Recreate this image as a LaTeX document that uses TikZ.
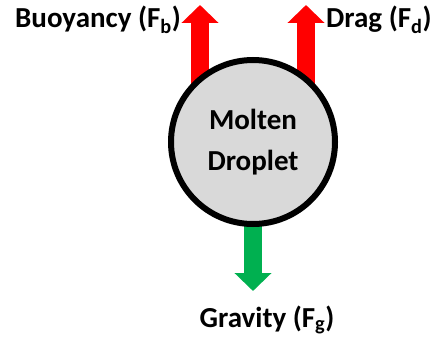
\documentclass[tikz,border=0pt]{standalone}
\usepackage{fontspec}
\setmainfont{Carlito}
\usetikzlibrary{arrows.meta,backgrounds,positioning}
\definecolor{forcered}{RGB}{255,0,0}
\definecolor{forcegreen}{RGB}{0,176,80}
\definecolor{dropgray}{RGB}{217,217,217}
\tikzset{
  dropbox/.style={draw, circle, line width=6pt, fill=dropgray, minimum size=164pt, inner sep=0pt, align=center, font=\fontsize{29}{41}\selectfont\bfseries},
  forcelabel/.style={inner sep=0pt, font=\fontsize{29}{34}\selectfont\bfseries},
  forcearrow/.style={line width=18pt, -{Triangle[width=36pt, length=18pt]}}
}

\begin{document}
\begin{tikzpicture}[x=1pt, y=-1pt]
  \useasboundingbox (0,0) rectangle (433,337);
  \node[dropbox] (drop) at (253,142) {Molten\\Droplet};
  \coordinate (buoytip) at (200,5);
  \coordinate (dragtip) at (306,5);
  \coordinate (gravtip) at (253,291);
  \node[forcelabel, anchor=base east] (buoy) at (181,28) {Buoyancy (F\textsubscript{b})};
  \node[forcelabel, anchor=base west] (drag) at (326,28) {Drag (F\textsubscript{d})};
  \node[forcelabel, anchor=base] (grav) at (267,327) {Gravity (F\textsubscript{g})};

  \begin{scope}[on background layer]
    \draw[forcearrow, forcered] (drop.center -| buoytip) -- (buoytip);
    \draw[forcearrow, forcered] (drop.center -| dragtip) -- (dragtip);
    \draw[forcearrow, forcegreen] (drop.center) -- (gravtip);
  \end{scope}
\end{tikzpicture}
\end{document}
